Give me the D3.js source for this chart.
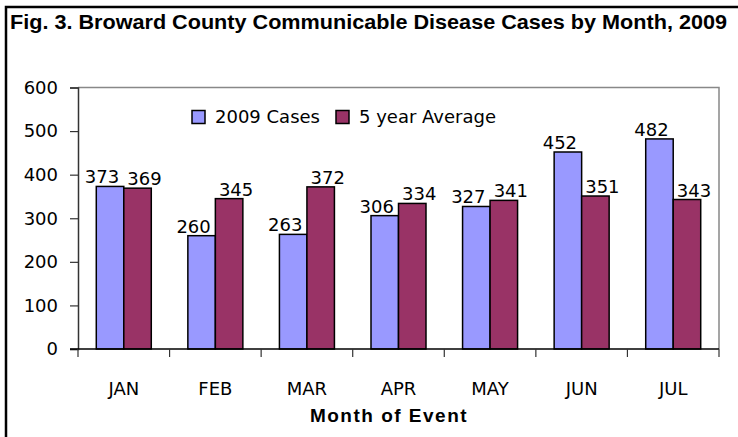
<!DOCTYPE html>
<html>
<head>
<meta charset="utf-8">
<script src="https://cdn.jsdelivr.net/npm/d3@7"></script>
<style>
  body { margin: 0; background: #fff; }
  svg text { font-family: "DejaVu Sans", sans-serif; fill: #000; }
</style>
</head>
<body>
<div id="chart"></div>
<script>
const months = ["JAN", "FEB", "MAR", "APR", "MAY", "JUN", "JUL"];
const series = ["2009 Cases", "5 year Average"];
const cases2009 = [373, 260, 263, 306, 327, 452, 482];
const fiveYearAvg = [369, 345, 372, 334, 341, 351, 343];
const yTicks = [0, 100, 200, 300, 400, 500, 600];
const colors = ["#9999ff", "#993366"];

const W = 738, H = 437;
const plot = { left: 78, right: 719, top: 87.5, bottom: 349 };

const svg = d3.select("#chart").append("svg")
  .attr("width", W).attr("height", H);

// outer frame (top + left only)
svg.append("path")
  .attr("d", `M6,437 V7 H738`)
  .attr("fill", "none").attr("stroke", "#000").attr("stroke-width", 2.5);

// title
svg.append("text")
  .attr("x", 10).attr("y", 29)
  .attr("textLength", 717).attr("lengthAdjust", "spacingAndGlyphs")
  .style("font-family", "'Liberation Sans Narrow', 'Liberation Sans', sans-serif")
  .style("font-weight", "bold")
  .style("font-size", "21px")
  .text("Fig. 3. Broward County Communicable Disease Cases by Month, 2009");

const x0 = d3.scaleBand().domain(months).range([plot.left, plot.right]);
const x1 = d3.scaleBand().domain(series).range([0, x0.bandwidth()])
  .paddingInner(0).paddingOuter(0.665);
const y = d3.scaleLinear().domain([0, 600]).range([plot.bottom, plot.top]);

// plot frame top/right in grey
svg.append("path")
  .attr("d", `M${plot.left},${plot.top} H${plot.right} V${plot.bottom}`)
  .attr("fill", "none").attr("stroke", "#888").attr("stroke-width", 1.5);

// y axis
const yAxis = svg.append("g")
  .attr("transform", `translate(${plot.left},0)`)
  .call(d3.axisLeft(y).tickValues(yTicks).tickSize(8).tickPadding(12));
yAxis.select(".domain").attr("stroke", "#333").attr("stroke-width", 1.5);
yAxis.selectAll(".tick line").attr("stroke", "#333").attr("stroke-width", 1.2);
yAxis.selectAll("text").style("font-size", "18px").style("font-family", "'DejaVu Sans', sans-serif").attr("fill", "#000");

// bars
const data = months.map((m, i) => ({ month: m, values: [cases2009[i], fiveYearAvg[i]] }));
const groups = svg.selectAll(".grp").data(data).enter().append("g")
  .attr("class", "grp")
  .attr("transform", (d) => `translate(${x0(d.month)},0)`);

groups.selectAll("rect")
  .data((d) => d.values.map((v, j) => ({ key: series[j], v, j })))
  .enter().append("rect")
  .attr("x", (d) => x1(d.key))
  .attr("y", (d) => y(d.v))
  .attr("width", x1.bandwidth())
  .attr("height", (d) => y(0) - y(d.v))
  .attr("fill", (d) => colors[d.j])
  .attr("stroke", "#000").attr("stroke-width", 1.5);

// value labels
groups.selectAll(".lbl")
  .data((d) => d.values.map((v, j) => ({ key: series[j], v, j })))
  .enter().append("text")
  .attr("class", "lbl")
  .attr("x", (d) => x1(d.key) + x1.bandwidth() / 2 + (d.j === 0 ? -8 : 7))
  .attr("y", (d) => y(d.v) - 3)
  .attr("text-anchor", "middle")
  .style("font-size", "18px")
  .text((d) => d.v);

// x axis
const xAxis = svg.append("g")
  .attr("transform", `translate(0,${plot.bottom})`);
xAxis.append("line")
  .attr("x1", plot.left - 8).attr("x2", plot.right)
  .attr("stroke", "#000").attr("stroke-width", 1.5);
xAxis.selectAll(".xt")
  .data(months.map((m) => x0(m)).concat([plot.right]))
  .enter().append("line")
  .attr("x1", (d) => d).attr("x2", (d) => d)
  .attr("y1", 0).attr("y2", 8)
  .attr("stroke", "#333").attr("stroke-width", 1.2);
xAxis.selectAll(".xl")
  .data(months).enter().append("text")
  .attr("x", (d) => x0(d) + x0.bandwidth() / 2)
  .attr("y", 46)
  .attr("text-anchor", "middle")
  .style("font-size", "18px")
  .text((d) => d);

// axis title
svg.append("text")
  .attr("x", 389).attr("y", 422)
  .attr("text-anchor", "middle")
  .style("font-size", "19px").style("font-weight", "bold")
  .style("letter-spacing", "1.5px")
  .style("font-family", "'Liberation Sans', sans-serif")
  .text("Month of Event");

// legend
const legend = svg.append("g");
const legendX = [192, 336];
series.forEach((s, i) => {
  legend.append("rect")
    .attr("x", legendX[i]).attr("y", 110.5)
    .attr("width", 13).attr("height", 13)
    .attr("fill", colors[i]).attr("stroke", "#000").attr("stroke-width", 1.5);
  legend.append("text")
    .attr("x", legendX[i] + 23).attr("y", 123)
    .style("font-size", "18px")
    .text(s);
});
</script>
</body>
</html>
